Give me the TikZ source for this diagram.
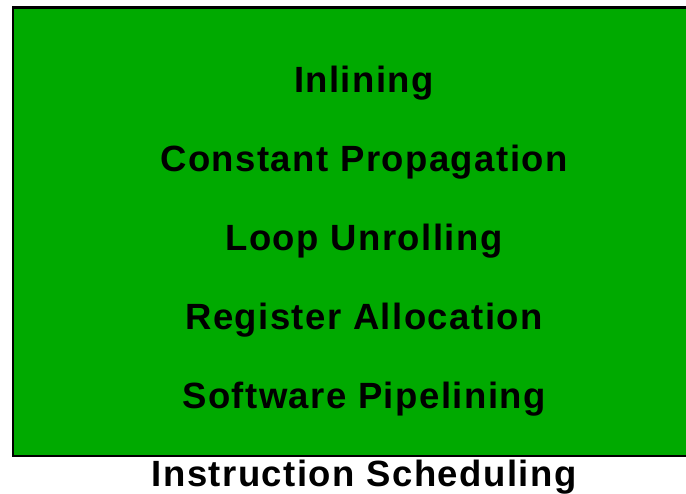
\documentclass[tikz,border=0pt]{standalone}
\usepackage{fontspec}
\setmainfont{Liberation Sans}
\definecolor{boxgreen}{HTML}{00AA00}
\begin{document}
\begin{tikzpicture}[x=1pt,y=-1pt,
  lbl/.style={font=\fontsize{36.5}{42}\selectfont\bfseries\addfontfeature{LetterSpace=4}, inner sep=0pt, anchor=center}]
\useasboundingbox (0,0) rectangle (686,494);
\begin{scope}
\clip (0,0) rectangle (686,494);
\draw[fill=boxgreen, line width=2.4pt] (13,7.5) rectangle (700,456);
\end{scope}
\node[lbl] (inl) at (364,83) {Inlining};
\node[lbl] (cp) at (364,162) {Constant Propagation};
\node[lbl] (lu) at (364,241) {Loop Unrolling};
\node[lbl] (ra) at (364,320) {Register Allocation};
\node[lbl] (sp) at (364,399) {Software Pipelining};
\node[lbl] (is) at (364,477) {Instruction Scheduling};
\end{tikzpicture}
\end{document}
